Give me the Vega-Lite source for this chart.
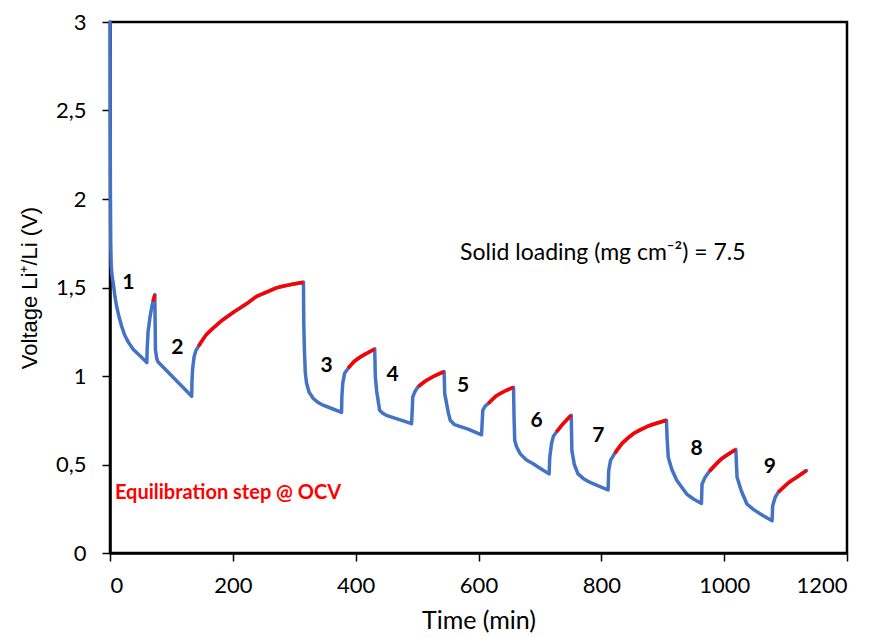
{
  "$schema": "https://vega.github.io/schema/vega-lite/v6.json",
  "width": 737,
  "height": 531,
  "autosize": {"type": "none"},
  "padding": {"left": 110, "top": 22, "right": 30, "bottom": 84},
  "background": "white",
  "config": {
    "view": {"stroke": "black", "strokeWidth": 2.5},
    "axis": {
      "grid": false,
      "domainColor": "black",
      "domainWidth": 2.5,
      "tickColor": "black",
      "tickWidth": 1.5,
      "tickSize": 8,
      "labelColor": "black",
      "labelFont": "Lato",
      "labelFontSize": 22,
      "titleFont": "Lato",
      "titleFontSize": 25,
      "titleFontWeight": "normal",
      "titleColor": "black"
    }
  },
  "datasets": {
    "trace": [
      {"t": 0, "v": 3.0}, {"t": 0.3, "v": 2.4}, {"t": 0.7, "v": 2.0}, {"t": 1.2, "v": 1.75}, {"t": 2, "v": 1.62},
      {"t": 3.5, "v": 1.56}, {"t": 5.5, "v": 1.52}, {"t": 8, "v": 1.45}, {"t": 11, "v": 1.39}, {"t": 15, "v": 1.33},
      {"t": 19, "v": 1.28}, {"t": 24, "v": 1.23}, {"t": 30, "v": 1.19}, {"t": 38, "v": 1.15}, {"t": 50, "v": 1.11},
      {"t": 60, "v": 1.076}, {"t": 60.5, "v": 1.15}, {"t": 62, "v": 1.25}, {"t": 65, "v": 1.33}, {"t": 68, "v": 1.39},
      {"t": 70, "v": 1.42}, {"t": 73, "v": 1.46}, {"t": 73.5, "v": 1.30}, {"t": 74, "v": 1.15}, {"t": 76, "v": 1.10},
      {"t": 78, "v": 1.08}, {"t": 133, "v": 0.886}, {"t": 133.5, "v": 0.97}, {"t": 134.5, "v": 1.04}, {"t": 137, "v": 1.11},
      {"t": 140, "v": 1.145}, {"t": 144, "v": 1.167}, {"t": 156, "v": 1.23}, {"t": 171, "v": 1.28}, {"t": 184, "v": 1.318},
      {"t": 201, "v": 1.36}, {"t": 221, "v": 1.405}, {"t": 239, "v": 1.45}, {"t": 256, "v": 1.475}, {"t": 271, "v": 1.498},
      {"t": 292, "v": 1.515}, {"t": 315, "v": 1.53}, {"t": 315.5, "v": 1.3}, {"t": 316.5, "v": 1.15}, {"t": 318, "v": 1.02},
      {"t": 320, "v": 0.96}, {"t": 324, "v": 0.91}, {"t": 331, "v": 0.873}, {"t": 339, "v": 0.85}, {"t": 347, "v": 0.835},
      {"t": 362, "v": 0.815}, {"t": 377, "v": 0.794}, {"t": 377.5, "v": 0.88}, {"t": 379, "v": 0.96}, {"t": 382, "v": 1.015},
      {"t": 388, "v": 1.044}, {"t": 397, "v": 1.08}, {"t": 407, "v": 1.106}, {"t": 419, "v": 1.13}, {"t": 431, "v": 1.153},
      {"t": 432, "v": 1.0}, {"t": 434, "v": 0.92}, {"t": 439, "v": 0.807}, {"t": 444, "v": 0.79}, {"t": 450, "v": 0.778},
      {"t": 470, "v": 0.755}, {"t": 491, "v": 0.731}, {"t": 492, "v": 0.80}, {"t": 493, "v": 0.883}, {"t": 497, "v": 0.915},
      {"t": 502, "v": 0.94}, {"t": 513, "v": 0.97}, {"t": 528, "v": 1.0}, {"t": 544, "v": 1.025}, {"t": 545, "v": 0.9},
      {"t": 547, "v": 0.864}, {"t": 551, "v": 0.79}, {"t": 554, "v": 0.75}, {"t": 561, "v": 0.725}, {"t": 583, "v": 0.70},
      {"t": 605, "v": 0.668}, {"t": 606, "v": 0.74}, {"t": 607, "v": 0.807}, {"t": 611, "v": 0.83}, {"t": 616, "v": 0.845},
      {"t": 628, "v": 0.885}, {"t": 643, "v": 0.915}, {"t": 657, "v": 0.936}, {"t": 658, "v": 0.75}, {"t": 659, "v": 0.636},
      {"t": 662, "v": 0.60}, {"t": 668, "v": 0.56}, {"t": 678, "v": 0.525}, {"t": 689, "v": 0.504}, {"t": 702, "v": 0.475},
      {"t": 715, "v": 0.447}, {"t": 716, "v": 0.54}, {"t": 719, "v": 0.62}, {"t": 722, "v": 0.66}, {"t": 727, "v": 0.684},
      {"t": 739, "v": 0.735}, {"t": 751, "v": 0.778}, {"t": 752, "v": 0.58}, {"t": 756, "v": 0.50}, {"t": 762, "v": 0.447},
      {"t": 771, "v": 0.42}, {"t": 781, "v": 0.40}, {"t": 796, "v": 0.378}, {"t": 811, "v": 0.356}, {"t": 812, "v": 0.466},
      {"t": 815, "v": 0.523}, {"t": 822, "v": 0.564}, {"t": 834, "v": 0.62}, {"t": 852, "v": 0.674}, {"t": 875, "v": 0.715},
      {"t": 906, "v": 0.75}, {"t": 907, "v": 0.655}, {"t": 909, "v": 0.54}, {"t": 915, "v": 0.47}, {"t": 923, "v": 0.41},
      {"t": 939, "v": 0.333}, {"t": 950, "v": 0.305}, {"t": 963, "v": 0.28}, {"t": 964, "v": 0.39}, {"t": 969, "v": 0.428},
      {"t": 976, "v": 0.462}, {"t": 995, "v": 0.53}, {"t": 1019, "v": 0.585}, {"t": 1020, "v": 0.50}, {"t": 1021, "v": 0.428},
      {"t": 1028, "v": 0.35}, {"t": 1037, "v": 0.277}, {"t": 1048, "v": 0.245}, {"t": 1059, "v": 0.22}, {"t": 1078, "v": 0.182},
      {"t": 1079, "v": 0.267}, {"t": 1083, "v": 0.314}, {"t": 1088, "v": 0.343}, {"t": 1106, "v": 0.40}, {"t": 1121, "v": 0.435},
      {"t": 1134, "v": 0.466}
    ],
    "ocv": [
      {"s": 1, "t": 70, "v": 1.42}, {"s": 1, "t": 73, "v": 1.46},
      {"s": 2, "t": 144, "v": 1.167}, {"s": 2, "t": 156, "v": 1.23}, {"s": 2, "t": 171, "v": 1.28}, {"s": 2, "t": 184, "v": 1.318},
      {"s": 2, "t": 201, "v": 1.36}, {"s": 2, "t": 221, "v": 1.405}, {"s": 2, "t": 239, "v": 1.45}, {"s": 2, "t": 256, "v": 1.475},
      {"s": 2, "t": 271, "v": 1.498}, {"s": 2, "t": 292, "v": 1.515}, {"s": 2, "t": 315, "v": 1.53},
      {"s": 3, "t": 388, "v": 1.044}, {"s": 3, "t": 397, "v": 1.08}, {"s": 3, "t": 407, "v": 1.106}, {"s": 3, "t": 419, "v": 1.13}, {"s": 3, "t": 431, "v": 1.153},
      {"s": 4, "t": 502, "v": 0.94}, {"s": 4, "t": 513, "v": 0.97}, {"s": 4, "t": 528, "v": 1.0}, {"s": 4, "t": 544, "v": 1.025},
      {"s": 5, "t": 616, "v": 0.845}, {"s": 5, "t": 628, "v": 0.885}, {"s": 5, "t": 643, "v": 0.915}, {"s": 5, "t": 657, "v": 0.936},
      {"s": 6, "t": 727, "v": 0.684}, {"s": 6, "t": 739, "v": 0.735}, {"s": 6, "t": 751, "v": 0.778},
      {"s": 7, "t": 822, "v": 0.564}, {"s": 7, "t": 834, "v": 0.62}, {"s": 7, "t": 852, "v": 0.674}, {"s": 7, "t": 875, "v": 0.715}, {"s": 7, "t": 906, "v": 0.75},
      {"s": 8, "t": 976, "v": 0.462}, {"s": 8, "t": 995, "v": 0.53}, {"s": 8, "t": 1019, "v": 0.585},
      {"s": 9, "t": 1088, "v": 0.343}, {"s": 9, "t": 1106, "v": 0.40}, {"s": 9, "t": 1121, "v": 0.435}, {"s": 9, "t": 1134, "v": 0.466}
    ],
    "nums": [
      {"t": 29.8, "v": 1.525, "label": "1"}, {"t": 109.6, "v": 1.158, "label": "2"}, {"t": 352.7, "v": 1.054, "label": "3"},
      {"t": 460, "v": 1.007, "label": "4"}, {"t": 575, "v": 0.941, "label": "5"}, {"t": 694.7, "v": 0.743, "label": "6"},
      {"t": 795, "v": 0.662, "label": "7"}, {"t": 955, "v": 0.588, "label": "8"}, {"t": 1074.5, "v": 0.488, "label": "9"}
    ],
    "notes": [
      {"t": 8.1, "v": 0.338, "label": "Equilibration step @ OCV"}
    ],
    "info": [
      {"t": 570, "v": 1.697, "label": "Solid loading (mg cm⁻²) = 7.5"}
    ]
  },
  "layer": [
    {
      "data": {"name": "trace"},
      "mark": {"type": "line", "color": "#4472C4", "strokeWidth": 3.5, "strokeJoin": "round", "strokeCap": "round"},
      "encoding": {
        "x": {"field": "t", "type": "quantitative", "scale": {"domain": [0, 1200], "nice": false},
          "axis": {"values": [0, 200, 400, 600, 800, 1000, 1200], "format": "d", "title": "Time (min)", "labelPadding": 14, "titlePadding": 12}},
        "y": {"field": "v", "type": "quantitative", "scale": {"domain": [0, 3], "nice": false},
          "axis": {"values": [0, 0.5, 1, 1.5, 2, 2.5, 3], "title": "Voltage Li⁺/Li (V)", "titleFont": "Liberation Sans", "titleFontSize": 22,
            "labelPadding": 16, "titlePadding": 14,
            "labelExpr": "replace(format(datum.value, '~g'), '.', ',')"}},
        "order": {"field": "t"}
      }
    },
    {
      "data": {"name": "ocv"},
      "mark": {"type": "line", "color": "#FF0000", "strokeWidth": 3.5, "interpolate": "monotone", "strokeCap": "butt"},
      "encoding": {
        "x": {"field": "t", "type": "quantitative"},
        "y": {"field": "v", "type": "quantitative"},
        "detail": {"field": "s"}
      }
    },
    {
      "data": {"name": "nums"},
      "mark": {"type": "text", "font": "Lato", "fontSize": 21, "fontWeight": "bold", "color": "black", "align": "center", "baseline": "middle"},
      "encoding": {
        "x": {"field": "t", "type": "quantitative"},
        "y": {"field": "v", "type": "quantitative"},
        "text": {"field": "label"}
      }
    },
    {
      "data": {"name": "notes"},
      "mark": {"type": "text", "font": "Lato", "fontSize": 20, "fontWeight": "bold", "color": "#FF0000", "align": "left", "baseline": "middle"},
      "encoding": {
        "x": {"field": "t", "type": "quantitative"},
        "y": {"field": "v", "type": "quantitative"},
        "text": {"field": "label"}
      }
    },
    {
      "data": {"name": "info"},
      "mark": {"type": "text", "font": "Lato", "fontSize": 23, "color": "black", "align": "left", "baseline": "middle"},
      "encoding": {
        "x": {"field": "t", "type": "quantitative"},
        "y": {"field": "v", "type": "quantitative"},
        "text": {"field": "label"}
      }
    }
  ]
}
